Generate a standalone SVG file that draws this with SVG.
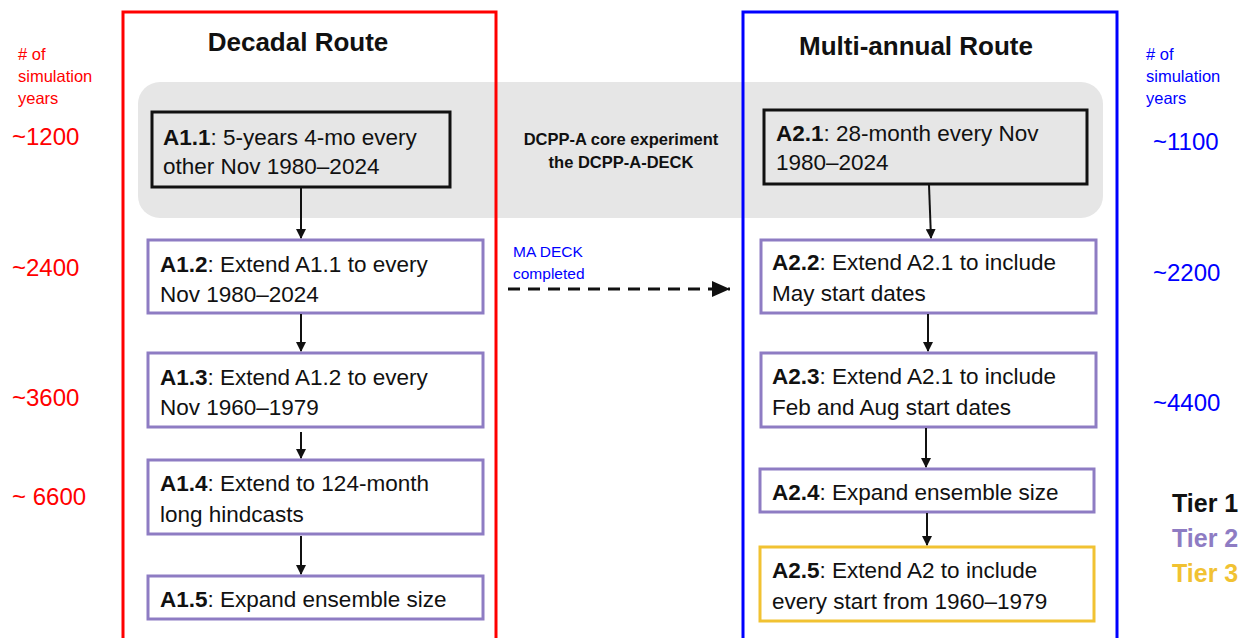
<svg xmlns="http://www.w3.org/2000/svg" width="1243" height="638" viewBox="0 0 1243 638">
<defs>
<style>
text{font-family:"Liberation Sans",Arial,sans-serif;}
.node{font-size:22.5px;fill:#111;}
.b{font-weight:bold;}
.t1{fill:#e6e6e6;stroke:#111;stroke-width:3;}
.t2{fill:#fff;stroke:#8e7cc3;stroke-width:3;}
.t3{fill:#fff;stroke:#f1c232;stroke-width:3;}
.conn{stroke:#111;stroke-width:2;fill:none;marker-end:url(#ah);}
.red{fill:#ff0000;}
.blue{fill:#0000ff;}
.title{font-size:26px;font-weight:bold;fill:#111;text-anchor:middle;}
.small{font-size:16.5px;}
.num{font-size:24px;}
.tier{font-size:25px;font-weight:bold;}
</style>
<marker id="ah" markerWidth="10" markerHeight="10" refX="9" refY="5" orient="auto" markerUnits="userSpaceOnUse">
<path d="M0,0 L10,5 L0,10 z" fill="#111"/>
</marker>
<marker id="ah2" markerWidth="18" markerHeight="16" refX="18" refY="8" orient="auto" markerUnits="userSpaceOnUse">
<path d="M0,0 L18,8 L0,16 z" fill="#111"/>
</marker>
</defs>
<rect width="1243" height="638" fill="#fff"/>
<g id="background">
<rect x="138" y="82" width="965" height="136" rx="22" fill="#e6e6e6"/>
</g>
<g id="decadal-route">
<rect x="123" y="12" width="373" height="640" fill="none" stroke="#ff0000" stroke-width="3"/>
<text class="title" x="298" y="51">Decadal Route</text>
</g>
<g id="multiannual-route">
<rect x="743" y="12" width="374" height="640" fill="none" stroke="#0000ff" stroke-width="3"/>
<text class="title" x="916" y="55">Multi-annual Route</text>
</g>
<g id="deck-label">
<text x="621" y="145" font-size="16.5" font-weight="bold" text-anchor="middle" fill="#111">DCPP-A core experiment</text>
<text x="621" y="168" font-size="16.5" font-weight="bold" text-anchor="middle" fill="#111">the DCPP-A-DECK</text>
</g>
<g id="A1.1">
<rect class="t1" x="152" y="112" width="298" height="75"/>
<text class="node" x="163" y="145"><tspan class="b">A1.1</tspan>: 5-years 4-mo every</text>
<text class="node" x="163" y="174">other Nov 1980–2024</text>
</g>
<g id="A1.2">
<rect class="t2" x="148" y="240" width="335" height="73"/>
<text class="node" x="160" y="272"><tspan class="b">A1.2</tspan>: Extend A1.1 to every</text>
<text class="node" x="160" y="302">Nov 1980–2024</text>
</g>
<g id="A1.3">
<rect class="t2" x="148" y="353" width="335" height="74"/>
<text class="node" x="160" y="385"><tspan class="b">A1.3</tspan>: Extend A1.2 to every</text>
<text class="node" x="160" y="415">Nov 1960–1979</text>
</g>
<g id="A1.4">
<rect class="t2" x="148" y="460" width="335" height="74"/>
<text class="node" x="160" y="491"><tspan class="b">A1.4</tspan>: Extend to 124-month</text>
<text class="node" x="160" y="522">long hindcasts</text>
</g>
<g id="A1.5">
<rect class="t2" x="148" y="576" width="335" height="43"/>
<text class="node" x="160" y="607"><tspan class="b">A1.5</tspan>: Expand ensemble size</text>
</g>
<g id="A2.1">
<rect class="t1" x="764" y="110" width="323" height="74"/>
<text class="node" x="776" y="141"><tspan class="b">A2.1</tspan>: 28-month every Nov</text>
<text class="node" x="776" y="170">1980–2024</text>
</g>
<g id="A2.2">
<rect class="t2" x="761" y="240" width="335" height="73"/>
<text class="node" x="772" y="270"><tspan class="b">A2.2</tspan>: Extend A2.1 to include</text>
<text class="node" x="772" y="301">May start dates</text>
</g>
<g id="A2.3">
<rect class="t2" x="761" y="353" width="335" height="74"/>
<text class="node" x="772" y="384"><tspan class="b">A2.3</tspan>: Extend A2.1 to include</text>
<text class="node" x="772" y="415">Feb and Aug start dates</text>
</g>
<g id="A2.4">
<rect class="t2" x="760" y="469" width="334" height="43"/>
<text class="node" x="772" y="500"><tspan class="b">A2.4</tspan>: Expand ensemble size</text>
</g>
<g id="A2.5">
<rect class="t3" x="760" y="547" width="334" height="74"/>
<text class="node" x="772" y="578"><tspan class="b">A2.5</tspan>: Extend A2 to include</text>
<text class="node" x="772" y="609">every start from 1960–1979</text>
</g>
<g id="connectors">
<line class="conn" x1="301" y1="188" x2="301" y2="238"/>
<line class="conn" x1="301" y1="314" x2="301" y2="351"/>
<line class="conn" x1="301" y1="432" x2="301" y2="458"/>
<line class="conn" x1="301" y1="536" x2="301" y2="574"/>
<line class="conn" x1="929" y1="185" x2="931" y2="238"/>
<line class="conn" x1="928" y1="314" x2="928" y2="351"/>
<line class="conn" x1="926" y1="428" x2="926" y2="467"/>
<line class="conn" x1="927" y1="513" x2="927" y2="545"/>
<line x1="508" y1="289" x2="730" y2="289" stroke="#111" stroke-width="3" stroke-dasharray="12,8" marker-end="url(#ah2)"/>
<text x="513" y="257" font-size="15.5" fill="#0000ff">MA DECK</text>
<text x="513" y="279" font-size="15.5" fill="#0000ff">completed</text>
</g>
<g id="left-labels">
<text class="red small" x="18" y="60"># of</text>
<text class="red small" x="18" y="82">simulation</text>
<text class="red small" x="18" y="104">years</text>
<text class="red num" x="12" y="145">~1200</text>
<text class="red num" x="12" y="276">~2400</text>
<text class="red num" x="12" y="406">~3600</text>
<text class="red num" x="12" y="505">~ 6600</text>
</g>
<g id="right-labels">
<text class="blue small" x="1146" y="60"># of</text>
<text class="blue small" x="1146" y="82">simulation</text>
<text class="blue small" x="1146" y="104">years</text>
<text class="blue num" x="1153" y="150">~1100</text>
<text class="blue num" x="1153" y="281">~2200</text>
<text class="blue num" x="1153" y="411">~4400</text>
</g>
<g id="legend">
<text class="tier" x="1172" y="512" fill="#111">Tier 1</text>
<text class="tier" x="1172" y="547" fill="#8e7cc3">Tier 2</text>
<text class="tier" x="1172" y="582" fill="#f1c232">Tier 3</text>
</g>
</svg>
